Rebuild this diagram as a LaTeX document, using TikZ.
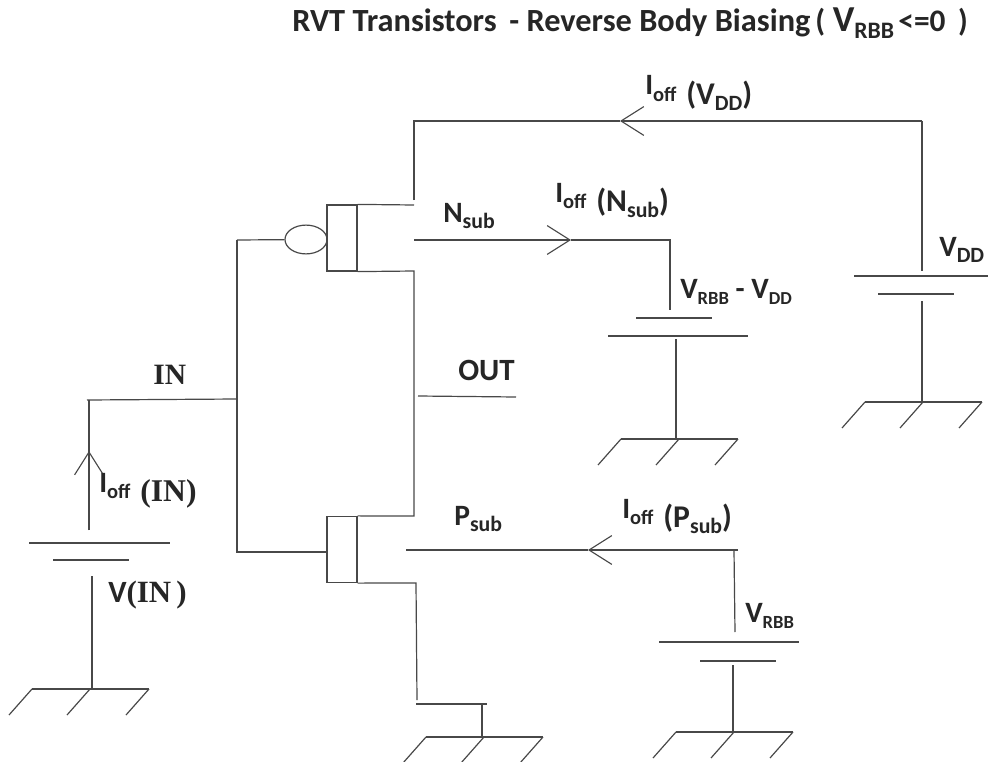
\documentclass[tikz,border=0pt]{standalone}
\usepackage{fontspec}
\setmainfont{Carlito}
\newfontfamily\serifbold{Liberation Serif}
\usepackage{tikz}
\usetikzlibrary{arrows.meta}
\usetikzlibrary{shapes}
\newcommand{\subtxt}[2][15.5]{\raisebox{-4.3pt}{\fontsize{#1}{#1}\selectfont #2}}
\newcommand{\ioffx}{I\raisebox{-4.6pt}{\fontsize{14.6}{14.6}\selectfont off}\hspace{7pt}}
\newcommand{\lowbox}[1]{\raisebox{-7pt}{\fontsize{22.5}{22.5}\selectfont #1}}

\begin{document}
\begin{tikzpicture}[x=0.025cm,y=-0.025cm]
        \definecolor{g-linecolor}{HTML}{484848}
        \definecolor{g-textcolor}{HTML}{262626}
        \tikzset{>={Straight Barb[length=0.57cm,width=0.72cm,line width=0.8pt]}}
        \tikzstyle{wire}=[g-linecolor,line width=0.85pt]
        \tikzstyle{device}=[draw=g-linecolor,line width=0.85pt,minimum width=0.75cm,minimum height=1.65cm,inner sep=0pt]
        \tikzstyle{bubble}=[ellipse,draw=g-linecolor,line width=0.85pt,minimum width=1.05cm,minimum height=0.72cm,inner sep=0pt]
        \tikzstyle{lab}=[text=g-textcolor,anchor=base west,font=\bfseries\fontsize{21}{21}\selectfont,inner sep=0pt]
        \tikzstyle{serlab}=[lab,font=\serifbold\bfseries\fontsize{21}{21}\selectfont]
        \useasboundingbox (0,0) rectangle (988,762);

        % transistors
        \node [device] (tp) at (342,238) {};
        \node [device] (tn) at (342,549.5) {};
        \node [bubble] (gb) at (306,239.5) {};

        \coordinate (gt) at (237,240);
        \coordinate (gn) at (237,552);
        \coordinate (gnr) at (327,552);
        \coordinate (inj) at (237,399);
        \coordinate (inl) at (87,400);
        \coordinate (pdrn) at (414,205);
        \coordinate (pvdd) at (414,200);
        \coordinate (tl) at (414,121);
        \coordinate (tr) at (922,121);
        \coordinate (vddt) at (922,271);
        \coordinate (vddb) at (922,301);
        \coordinate (vddg) at (922,402);
        \coordinate (itip) at (620,121);
        \coordinate (pout) at (414,271);
        \coordinate (nout) at (414,516);
        \coordinate (nsrc) at (416,583);
        \coordinate (ndn) at (417,700);
        \coordinate (gndl) at (416,704);
        \coordinate (gndr) at (487,704);
        \coordinate (gndm) at (482,704);
        \coordinate (gndg) at (482,737);
        \coordinate (outl) at (418,396);
        \coordinate (outr) at (516,397);
        \coordinate (nsl) at (414,240);
        \coordinate (nstip) at (571,240);
        \coordinate (nsr) at (670,240);
        \coordinate (nsd) at (670,310);
        \coordinate (nsb) at (676,339);
        \coordinate (nsg) at (676,439);
        \coordinate (psl) at (406,550);
        \coordinate (pstip) at (588,550);
        \coordinate (psr) at (738,550);
        \coordinate (psj) at (734,550);
        \coordinate (psd) at (735,632);
        \coordinate (psb) at (733,665);
        \coordinate (psg) at (733,732);
        \coordinate (inb) at (89,530);
        \coordinate (intop) at (89,400);
        \coordinate (intip) at (89,451);
        \coordinate (inbb) at (92,576);
        \coordinate (ing) at (92,689);

        % connections
        \draw [wire] (gt) -- (gb);
        \draw [wire] (gt) -- (gn) -- (gnr);
        \draw [wire] (inl) -- (inj);
        \draw [wire] (tp.north east) -- (pdrn);
        \draw [wire] (tp.south east) -- (pout) -- (nout) -- (tn.north east);
        \draw [wire] (tn.south east) -- (nsrc) -- (ndn);
        \draw [wire] (gndl) -- (gndr);
        \draw [wire] (gndm) -- (gndg);
        \draw [wire] (outl) -- (outr);
        \draw [wire] (pvdd) -- (tl) -- (itip);
        \draw [wire,->] (tr) -- (itip);
        \draw [wire] (tr) -- (vddt);
        \draw [wire] (vddb) -- (vddg);
        \draw [wire,->] (nsl) -- (nstip);
        \draw [wire] (nstip) -- (nsr) -- (nsd);
        \draw [wire] (nsb) -- (nsg);
        \draw [wire] (psl) -- (pstip);
        \draw [wire,->] (psr) -- (pstip);
        \draw [wire] (psj) -- (psd);
        \draw [wire] (psb) -- (psg);
        \draw [wire] (inb) -- (intop);
        \draw [wire,->] (inb) -- (intip);
        \draw [wire] (inbb) -- (ing);

        % battery plates
        \foreach \px/\py/\plen in {854/276/134,878/294/76,608/336/140,636/318/76,659/642/140,700/661/76,29/543/141,53/560/76}
            \draw [wire] (\px,\py) -- ++(\plen,0);

        % grounds
        \foreach \gx/\gy in {865/402,621/439,676/732,32/689,426/737}
        {
            \draw [wire] (\gx,\gy) -- ++(117,0);
            \foreach \hx in {0,58,117}
                \draw [wire] (\gx+\hx,\gy) -- ++(-23,26);
        }

        % labels
        \node [lab,font=\bfseries\fontsize{23}{23}\selectfont] (title) at (292,32) {RVT Transistors \,- Reverse Body Biasing};
        \node [lab,font=\bfseries\fontsize{22.3}{22.3}\selectfont] (titlep) at (815,32) {(\hspace{5.5pt}{\fontsize{26}{26}\selectfont V}\subtxt[16.8]{RBB}\hspace{3pt}<=0\hspace{9pt})};
        \node [lab] (ivdd) at (645,95) {\ioffx\lowbox{(V\subtxt{DD})}};
        \node [lab] (insub) at (555,202) {\ioffx\lowbox{(N\subtxt{sub})}};
        \node [lab] (nsub) at (443,222) {N\subtxt{sub}};
        \node [lab] (vdd) at (939,256) {V\subtxt{DD}};
        \node [lab] (vrv) at (680,298) {V\subtxt[13.2]{RBB} - V\subtxt[13]{DD}};
        \node [lab,font=\bfseries\fontsize{22}{22}\selectfont] (out) at (458,380) {OUT};
        \node [serlab] (inl2) at (153,384) {IN};
        \node [lab] (iin) at (99,492) {\ioffx\lowbox{\serifbold(IN)}};
        \node [lab] (psub) at (454,525) {P\subtxt{sub}};
        \node [lab] (ipsub) at (622,518) {\ioffx\lowbox{(P\subtxt{sub})}};
        \node [lab,font=\bfseries\fontsize{22}{22}\selectfont] (vin) at (108,602) {V{\serifbold(IN\,)}};
        \node [lab] (vrbb) at (745,622) {V\subtxt[13.2]{RBB}};
\end{tikzpicture}
\end{document}
